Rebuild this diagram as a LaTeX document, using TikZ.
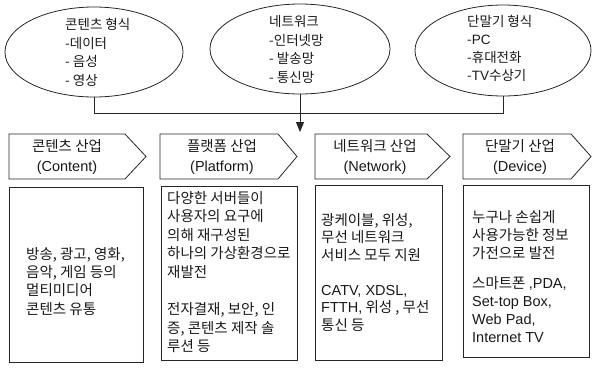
\documentclass[tikz,border=0pt]{standalone}
\usepackage{fontspec}
\setmainfont{Noto Sans CJK KR}
\newfontfamily\la{Liberation Sans}
\usetikzlibrary{shapes.geometric,arrows.meta}
\begin{document}
\begin{tikzpicture}[x=1pt,y=-1pt,
  ln/.style={draw=black!85,line width=0.8pt},
  oval/.style={ellipse,ln,inner sep=0pt},
  txt/.style={font=\fontsize{14.5}{18.7}\selectfont,align=left,anchor=north west,inner sep=0pt,text=black!90},
  ptxt/.style={font=\fontsize{14.5}{20}\selectfont,align=center,inner sep=0pt,text=black!90},
  boxx/.style={ln,rectangle,inner sep=0pt,anchor=north west}
]
\useasboundingbox (0,0) rectangle (592,368);
% ellipses
\node[oval,minimum width=178pt,minimum height=90pt] (e1) at (94,52) {};
\node[oval,minimum width=180pt,minimum height=90pt] (e2) at (300,49) {};
\node[oval,minimum width=176pt,minimum height=91pt] (e3) at (503,50.5) {};
\node[txt,font=\fontsize{13.5}{18.7}\selectfont] (t1) at (65,18) {콘텐츠 형식\\-데이터\\- 음성\\- 영상};
\node[txt,font=\fontsize{13.5}{18.7}\selectfont] (t2) at (269,15) {네트워크\\-인터넷망\\- 발송망\\- 통신망};
\node[txt,font=\fontsize{13.5}{18}\selectfont] (t3) at (467,15) {단말기 형식\\-{\la PC}\\-휴대전화\\-{\la TV}수상기};
% connectors
\coordinate (bus) at (0,113);
\coordinate (tip) at (0,132);
\draw[ln] (e1.south) -- (e1.south |- bus) -- (e3.south |- bus) -- (e3.south);
\draw[ln,-{Triangle[length=10pt,width=8pt]}] (e2.south) -- (e2.south |- tip);
% pentagons
\draw[ln] (9,134) -- (125,134) -- (146,156.5) -- (125,179) -- (9,179) -- cycle;
\draw[ln] (160,134) -- (278,134) -- (297,156.5) -- (278,179) -- (160,179) -- cycle;
\draw[ln] (315,134) -- (427,134) -- (450,156.5) -- (427,179) -- (315,179) -- cycle;
\draw[ln] (463,134) -- (571,134) -- (591,156.5) -- (571,179) -- (463,179) -- cycle;
\node[ptxt] (p1) at (67,157) {콘텐츠 산업\\{\la (Content)}};
\node[ptxt] (p2) at (222,157) {플랫폼 산업\\{\la (Platform)}};
\node[ptxt] (p3) at (375,157) {네트워크 산업\\{\la (Network)}};
\node[ptxt] (p4) at (520,157) {단말기 산업\\{\la (Device)}};
% lower boxes
\node[boxx,minimum width=134pt,minimum height=175pt] (b1) at (9,187) {};
\node[boxx,minimum width=136pt,minimum height=174pt] (b2) at (161,186) {};
\node[boxx,minimum width=127pt,minimum height=175pt] (b3) at (315,185) {};
\node[boxx,minimum width=126pt,minimum height=172pt] (b4) at (463,185) {};
\node[txt,font=\fontsize{14.5}{18.3}\selectfont] (c1) at (26,247) {방송, 광고, 영화,\\음악, 게임 등의\\멀티미디어\\콘텐츠 유통};
\node[txt,font=\fontsize{14.5}{18.6}\selectfont] (c2) at (167,191) {다양한 서버들이\\사용자의 요구에\\의해 재구성된\\하나의 가상환경으로\\재발전\\[18.5pt]전자결재, 보안, 인\\증, 콘텐츠 제작 솔\\루션 등};
\node[txt,font=\fontsize{14.5}{17.5}\selectfont] (c3) at (321,213) {광케이블, 위성,\\무선 네트워크\\서비스 모두 지원\\[17.5pt]{\la CATV, XDSL,}\\{\la FTTH,} 위성 , 무선\\통신 등};
\node[txt,font=\fontsize{14.5}{18}\selectfont] (c4) at (472,210) {누구나 손쉽게\\사용가능한 정보\\가전으로 발전\\[12pt]스마트폰 {\la ,PDA,}\\{\la Set-top Box,}\\{\la Web Pad,}\\{\la Internet TV}};
\end{tikzpicture}
\end{document}
